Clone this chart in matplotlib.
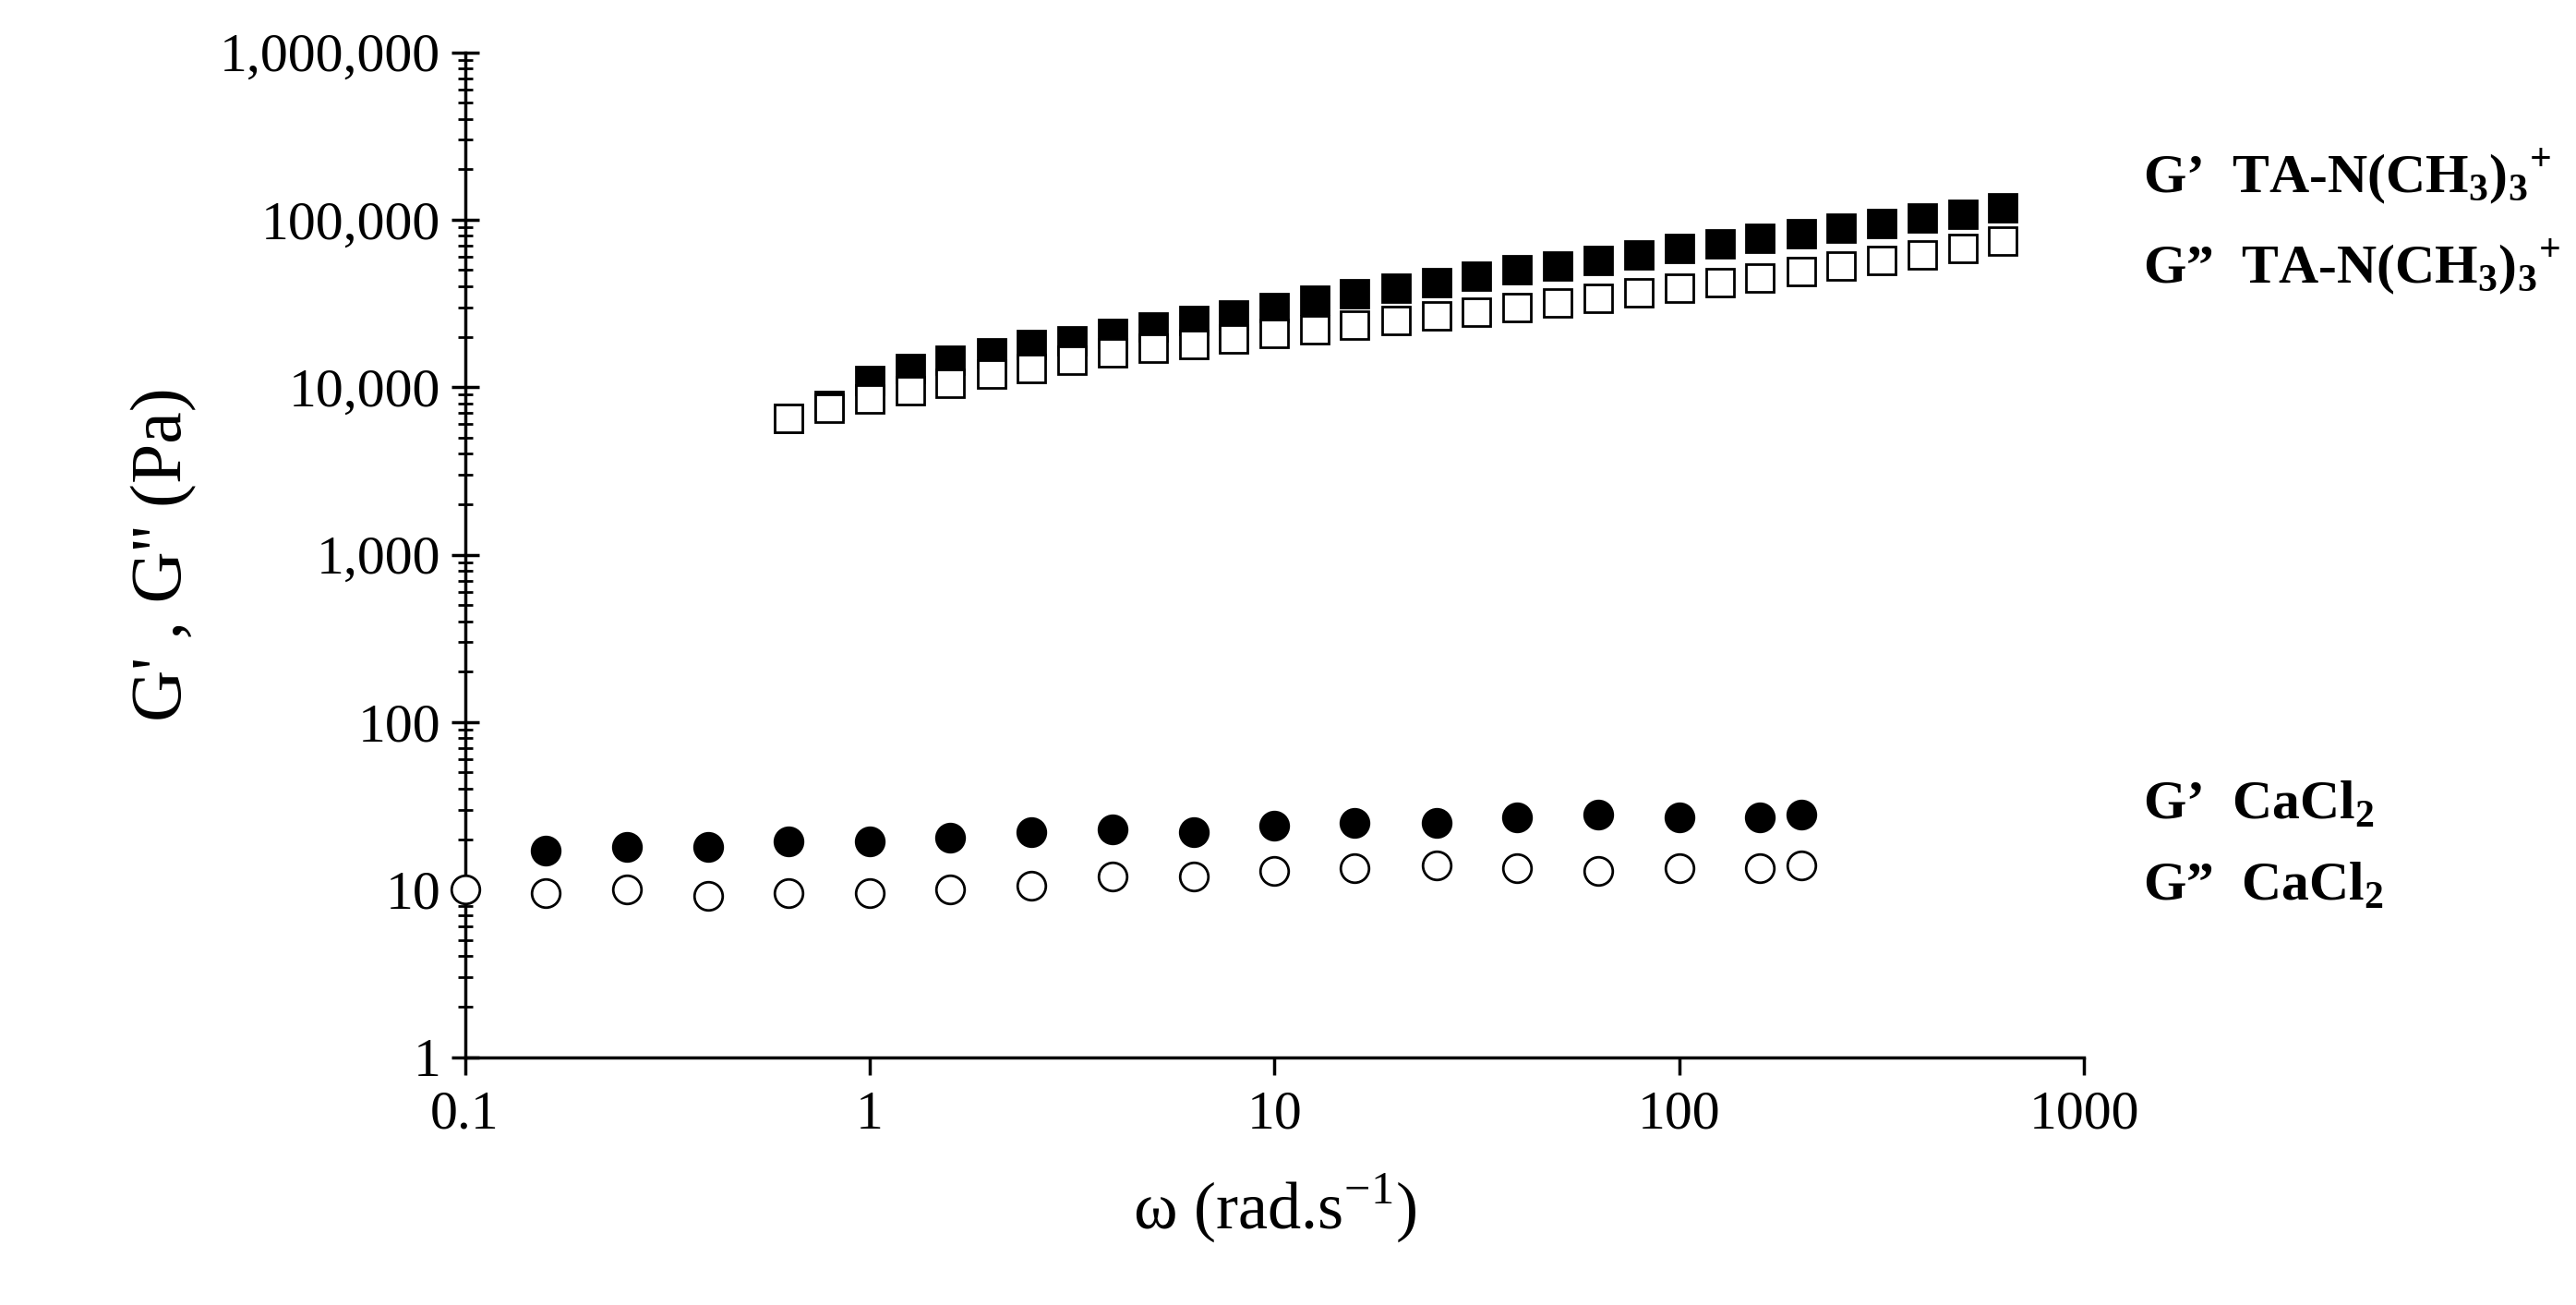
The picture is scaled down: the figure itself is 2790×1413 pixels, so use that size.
import matplotlib
matplotlib.use("Agg")
import matplotlib.pyplot as plt
from matplotlib.ticker import FuncFormatter, LogLocator, NullFormatter

plt.rcParams['font.family'] = ['Liberation Serif', 'DejaVu Serif']
plt.rcParams['mathtext.fontset'] = 'custom'
plt.rcParams['mathtext.rm'] = 'Liberation Serif'
plt.rcParams['mathtext.bf'] = 'Liberation Serif:bold'

# TA-N(CH3)3+ frequency sweep
w_ta = [0.631, 0.794, 1.0, 1.26, 1.58, 2.0, 2.51, 3.16, 3.98, 5.01, 6.31, 7.94,
        10.0, 12.6, 15.8, 20.0, 25.1, 31.6, 39.8, 50.1, 63.1, 79.4, 100, 126,
        158, 200, 251, 316, 398, 501, 631]
gp_ta = [6500, 7800, 11000, 13000, 14500, 16000, 18000, 19000, 21000, 23000,
         25000, 27000, 30000, 33000, 36000, 39000, 42000, 46000, 50000, 53000,
         57000, 62000, 67000, 72000, 77000, 83000, 89000, 95000, 102000, 108000, 118000]
gpp_ta = [6500, 7500, 8500, 9500, 10500, 12000, 13000, 14500, 16000, 17000,
          18000, 19500, 21000, 22000, 23500, 25000, 26500, 28000, 30000, 32000,
          34000, 36500, 39000, 42000, 45000, 49000, 53000, 57000, 62000, 67000, 75000]

# CaCl2 frequency sweep
w_ca_gp = [0.158, 0.251, 0.398, 0.631, 1.0, 1.58, 2.51, 3.98, 6.31, 10.0, 15.8,
           25.1, 39.8, 63.1, 100, 158, 200]
gp_ca = [17, 18, 18, 19.5, 19.5, 20.5, 22, 23, 22, 24, 25, 25, 27, 28, 27, 27, 28]
w_ca_gpp = [0.1, 0.158, 0.251, 0.398, 0.631, 1.0, 1.58, 2.51, 3.98, 6.31, 10.0,
            15.8, 25.1, 39.8, 63.1, 100, 158, 200]
gpp_ca = [10, 9.5, 10, 9.2, 9.5, 9.5, 10, 10.5, 12, 12, 13, 13.5, 14, 13.5, 13,
          13.5, 13.5, 14]

fig = plt.figure(figsize=(27.9, 14.13), dpi=100)
ax = fig.add_axes([0.1805, 0.190, 0.6285, 0.770])

ms = 22
ax.plot(w_ta, gp_ta, 's', color='black', ms=ms, mec='black', mew=2)
ax.plot(w_ta, gpp_ta, 's', mfc='white', mec='black', ms=ms, mew=2)
ax.plot(w_ca_gp, gp_ca, 'o', color='black', ms=ms, mec='black', mew=2)
ax.plot(w_ca_gpp, gpp_ca, 'o', mfc='white', mec='black', ms=ms, mew=2, clip_on=False, zorder=5)

ax.set_xscale('log')
ax.set_yscale('log')
ax.set_xlim(0.1, 1000)
ax.set_ylim(1, 1e6)

for s in ['top', 'right']:
    ax.spines[s].set_visible(False)
for s in ['left', 'bottom']:
    ax.spines[s].set_linewidth(2.5)

ax.yaxis.set_major_formatter(FuncFormatter(lambda v, p: f"{v:,.0f}"))
ax.xaxis.set_major_formatter(FuncFormatter(lambda v, p: f"{v:g}"))
ax.xaxis.set_minor_locator(LogLocator(base=10, subs=[]))
ax.yaxis.set_minor_locator(LogLocator(base=10, subs=range(2, 10), numticks=20))
ax.yaxis.set_minor_formatter(NullFormatter())
ax.tick_params(axis='y', which='major', direction='inout', length=22, width=2.5, labelsize=43, pad=8)
ax.tick_params(axis='y', which='minor', direction='inout', length=12, width=2)
ax.tick_params(axis='x', which='major', direction='out', length=14, width=2.5, labelsize=43, pad=12)

ax.set_xlabel(r'ω (rad.s$^{-1}$)', fontsize=52, labelpad=25)
ax.set_ylabel("G' , G'' (Pa)", fontsize=56, labelpad=18)

tk = dict(fontsize=43, fontweight='bold', transform=ax.transData, va='center', ha='left')
ax.text(1400, 1.8e5, r"G’  TA-N(CH$_\mathbf{3}$)$_\mathbf{3}$$^\mathbf{+}$", clip_on=False, **tk)
ax.text(1400, 5.2e4, r"G”  TA-N(CH$_\mathbf{3}$)$_\mathbf{3}$$^\mathbf{+}$", clip_on=False, **tk)
ax.text(1400, 32, r"G’  CaCl$_\mathbf{2}$", clip_on=False, **tk)
ax.text(1400, 10.5, r"G”  CaCl$_\mathbf{2}$", clip_on=False, **tk)

fig.savefig("out.png", dpi=100)
